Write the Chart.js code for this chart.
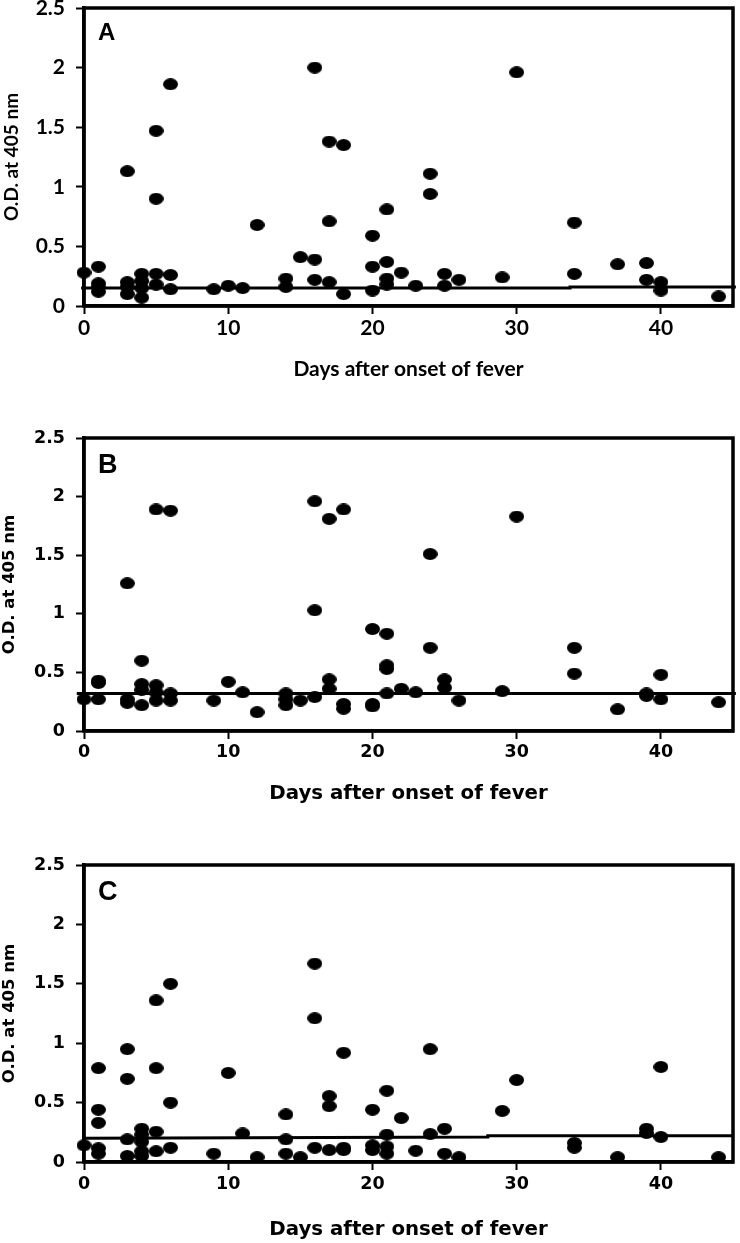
<!DOCTYPE html>
<html>
<head>
<meta charset="utf-8">
<script src="https://cdn.jsdelivr.net/npm/chart.js@4.4.0/dist/chart.umd.min.js"></script>
<style>
  html, body { margin: 0; padding: 0; background: #fff; }
  body { position: relative; width: 740px; height: 1243px; overflow: hidden; }
  canvas { position: absolute; left: 0; }
</style>
</head>
<body>
<canvas id="panelA" width="740" height="402" style="top:-20px"></canvas>
<canvas id="panelB" width="740" height="406" style="top:400px"></canvas>
<canvas id="panelC" width="740" height="413" style="top:830px"></canvas>
<script>
// Shared axis ticks
const xTicks = [0, 10, 20, 30, 40];
const yTicks = [0, 0.5, 1, 1.5, 2, 2.5];

// Panel A
const daysA = [0, 1, 1, 1, 1, 3, 3, 3, 3, 4, 4, 4, 4, 5, 5, 5, 5, 6, 6, 6, 9, 10, 11, 12, 14, 14, 15, 16, 16, 16,
  17, 17, 17, 18, 18, 20, 20, 20, 21, 21, 21, 21, 22, 23, 24, 24, 25, 25, 26, 29, 30, 34, 34, 37, 39, 39, 40, 40, 44];
const odA = [0.28, 0.33, 0.19, 0.16, 0.12, 1.13, 0.20, 0.16, 0.10, 0.27, 0.21, 0.15, 0.07, 1.47, 0.90, 0.27, 0.18,
  1.86, 0.26, 0.14, 0.14, 0.17, 0.15, 0.68, 0.23, 0.16, 0.41, 2.00, 0.39, 0.22, 1.38, 0.71, 0.20, 1.35, 0.10,
  0.59, 0.33, 0.13, 0.81, 0.37, 0.23, 0.18, 0.28, 0.17, 1.11, 0.94, 0.27, 0.17, 0.22, 0.24, 1.96, 0.70, 0.27,
  0.35, 0.36, 0.22, 0.20, 0.13, 0.08];
const cutoffDaysA = [-0.2, 33.7, 33.7, 45.2];
const cutoffOdA = [0.15, 0.15, 0.16, 0.16];

// Panel B
const daysB = [0, 1, 1, 1, 3, 3, 3, 4, 4, 4, 4, 5, 5, 5, 5, 6, 6, 6, 9, 10, 11, 12, 14, 14, 14, 15, 16, 16, 16,
  17, 17, 17, 18, 18, 18, 20, 20, 20, 21, 21, 21, 21, 22, 23, 24, 24, 25, 25, 26, 29, 30, 34, 34, 37, 39, 39, 40, 40, 44];
const odB = [0.27, 0.43, 0.41, 0.27, 1.26, 0.27, 0.24, 0.60, 0.40, 0.35, 0.22, 1.89, 0.39, 0.33, 0.26, 1.88, 0.32, 0.26,
  0.26, 0.42, 0.33, 0.16, 0.32, 0.27, 0.22, 0.26, 1.96, 1.03, 0.29, 1.81, 0.44, 0.36, 1.89, 0.23, 0.19,
  0.87, 0.23, 0.21, 0.83, 0.56, 0.53, 0.32, 0.36, 0.33, 1.51, 0.71, 0.44, 0.37, 0.26, 0.34, 1.83, 0.71, 0.49,
  0.185, 0.32, 0.30, 0.48, 0.27, 0.245];
const cutoffDaysB = [-0.5, 45.2];
const cutoffOdB = [0.32, 0.32];

// Panel C
const daysC = [0, 1, 1, 1, 1, 1, 3, 3, 3, 3, 4, 4, 4, 4, 4, 5, 5, 5, 5, 6, 6, 6, 9, 10, 11, 12, 14, 14, 14, 15, 16, 16, 16,
  17, 17, 17, 18, 18, 18, 20, 20, 20, 21, 21, 21, 21, 22, 23, 24, 24, 25, 25, 26, 29, 30, 34, 34, 37, 39, 39, 40, 40, 44];
const odC = [0.14, 0.79, 0.44, 0.33, 0.115, 0.07, 0.95, 0.70, 0.19, 0.05, 0.28, 0.23, 0.17, 0.09, 0.05,
  1.36, 0.79, 0.255, 0.09, 1.50, 0.50, 0.12, 0.07, 0.75, 0.24, 0.04, 0.40, 0.19, 0.07, 0.04, 1.67, 1.21, 0.12,
  0.555, 0.47, 0.10, 0.92, 0.12, 0.10, 0.44, 0.14, 0.10, 0.60, 0.23, 0.13, 0.07, 0.37, 0.095, 0.95, 0.235,
  0.28, 0.07, 0.04, 0.43, 0.69, 0.16, 0.12, 0.04, 0.28, 0.245, 0.80, 0.21, 0.04];
const cutoffDaysC = [0, 28, 28, 45];
const cutoffOdC = [0.2, 0.21, 0.222, 0.222];

// Black oval marker like the original figure
const dot = document.createElement('canvas');
dot.width = 15;
dot.height = 12;
const g = dot.getContext('2d');
g.fillStyle = '#000';
g.beginPath();
g.ellipse(7.5, 6, 7.5, 6, 0, 0, Math.PI * 2);
g.fill();

// Box around plot area + panel letter
const panelFrame = {
  id: 'panelFrame',
  afterDraw(chart, args, opts) {
    const { ctx, chartArea: a } = chart;
    ctx.save();
    ctx.strokeStyle = '#000';
    ctx.lineWidth = 3.5;
    ctx.strokeRect(a.left, a.top, a.right - a.left, a.bottom - a.top);
    ctx.fillStyle = '#000';
    ctx.font = opts.font;
    ctx.textBaseline = 'alphabetic';
    ctx.fillText(opts.letter, a.left + 14, a.top + opts.dy);
    ctx.restore();
  }
};

function toPoints(xs, ys) {
  return xs.map((x, i) => ({ x: x, y: ys[i] }));
}

function crearPanel(id, days, od, cutDays, cutOd, look) {
  const ctx = document.getElementById(id).getContext('2d');
  return new Chart(ctx, {
    type: 'scatter',
    data: {
      datasets: [{
        data: toPoints(days, od),
        pointStyle: dot,
        pointRadius: 6,
        pointHoverRadius: 6,
        backgroundColor: '#000',
        clip: false
      }, {
        type: 'line',
        data: toPoints(cutDays, cutOd),
        borderColor: '#000',
        borderWidth: 3,
        pointRadius: 0,
        fill: false,
        tension: 0,
        clip: false
      }]
    },
    options: {
      responsive: false,
      animation: false,
      layout: { padding: { top: look.padTop, right: look.padRight, left: 0, bottom: 0 } },
      plugins: {
        legend: { display: false },
        tooltip: { enabled: false },
        panelFrame: { letter: look.letter, font: look.letterFont, dy: look.letterDy }
      },
      scales: {
        x: {
          type: 'linear',
          min: 0,
          max: 45,
          afterBuildTicks: s => { s.ticks = xTicks.map(v => ({ value: v })); },
          afterFit: s => { s.height = look.xHeight; },
          border: { display: true, color: '#000', width: 3.5 },
          grid: { display: true, drawOnChartArea: false, drawTicks: true, tickLength: 8, tickWidth: 2, tickColor: '#000' },
          ticks: {
            color: '#000', padding: look.xTickPad, maxRotation: 0,
            callback: v => String(v),
            font: { family: look.family, size: look.tickSize, weight: 'bold' }
          },
          title: {
            display: true,
            text: 'Days after onset of fever',
            color: '#000',
            padding: { top: 0, bottom: look.xTitlePad },
            font: { family: look.family, size: look.xTitleSize, weight: 'bold' }
          }
        },
        y: {
          min: 0,
          max: 2.5,
          afterBuildTicks: s => { s.ticks = yTicks.map(v => ({ value: v })); },
          afterFit: s => { s.width = 84; },
          border: { display: true, color: '#000', width: 3.5 },
          grid: { display: true, drawOnChartArea: false, drawTicks: true, tickLength: 8, tickWidth: 2, tickColor: '#000' },
          ticks: {
            color: '#000', padding: 11,
            callback: v => String(v),
            font: { family: look.family, size: look.tickSize, weight: 'bold' }
          },
          title: {
            display: true,
            text: 'O.D. at 405 nm',
            color: '#000',
            padding: { top: look.yTitlePad, bottom: 0 },
            font: { family: look.family, size: look.yTitleSize, weight: 'bold' }
          }
        }
      }
    },
    plugins: [panelFrame]
  });
}

crearPanel('panelA', daysA, odA, cutoffDaysA, cutoffOdA, {
  family: 'Lato', tickSize: 21, xTitleSize: 21, yTitleSize: 19,
  padTop: 28, padRight: 3, xHeight: 76, xTickPad: 2, xTitlePad: 0, yTitlePad: 0,
  letter: 'A', letterFont: 'bold 24px "Liberation Sans"', letterDy: 32
});

crearPanel('panelB', daysB, odB, cutoffDaysB, cutoffOdB, {
  family: 'DejaVu Sans', tickSize: 17.5, xTitleSize: 19.8, yTitleSize: 16.5,
  padTop: 38, padRight: 6, xHeight: 75, xTickPad: 3, xTitlePad: 0, yTitlePad: 0,
  letter: 'B', letterFont: 'bold 27px "Liberation Sans"', letterDy: 35
});

crearPanel('panelC', daysC, odC, cutoffDaysC, cutoffOdC, {
  family: 'DejaVu Sans', tickSize: 17.5, xTitleSize: 19.8, yTitleSize: 16.5,
  padTop: 35, padRight: 6, xHeight: 81, xTickPad: 4, xTitlePad: 1, yTitlePad: 0,
  letter: 'C', letterFont: 'bold 27px "Liberation Sans"', letterDy: 35
});
</script>
</body>
</html>
